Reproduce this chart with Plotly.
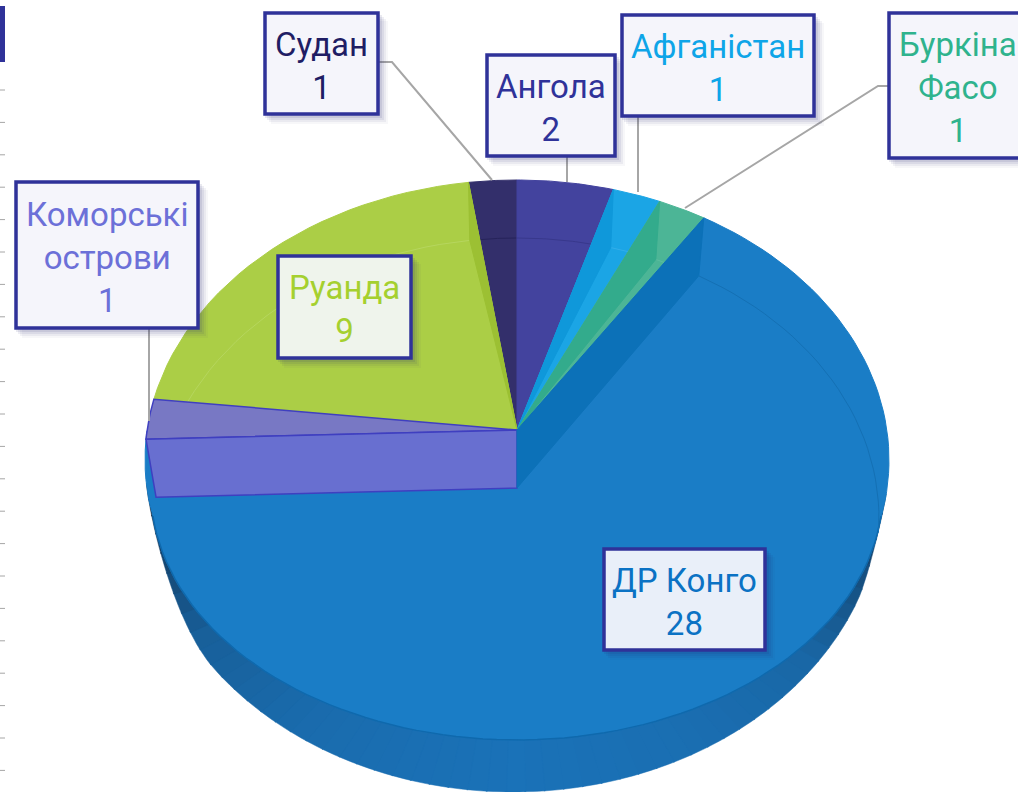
import numpy as np
import plotly.graph_objects as go

# Data
categories = ["Ангола", "Афганістан", "Буркіна<br>Фасо", "ДР Конго", "Коморські<br>острови", "Руанда", "Судан"]
values = [2, 1, 1, 28, 1, 9, 1]

# Style
top_colors = ["#43439e", "#1ba5e5", "#4cb596", "#1a7dc6", "#7878c4", "#abce46", "#332f6b"]
strip_colors = ["#43439e", "#0f98da", "#33ab8c", "#0c71b8", "#686fd0", "#9cc033", "#332f6b"]
arc_colors = ["#38388c", "#32aeea", "#5cbd9f", "#1470b4", "#7878c4", "#b6d65e", "#26235a"]
text_colors = ["#2f3299", "#0ea5e8", "#2fb38d", "#0b72c4", "#6c70d8", "#a5d02f", "#1f1d64"]
box_fills = ["#f5f5fb", "#f5f5fb", "#f5f5fb", "#e9eff9", "#f5f5fb", "#eff4ec", "#f5f5fb"]
boxes = [(487, 55, 615, 156), (622, 15, 814, 116), (889, 13, 1022, 158), (604, 549, 765, 650),
         (16, 182, 198, 328), (278, 256, 411, 358), (265, 13, 378, 114)]
leaders = [[(567, 156), (567, 182)], [(638, 116), (638, 192)], [(889, 86), (878, 86), (685, 208)], None,
           [(149, 328), (149, 421)], None, [(378, 62), (392, 62), (492, 180)]]
FONT = "Roboto"
FONT_SIZE = 33

# Projection of the tilted pie onto the page
CX, APEX_Y = 517, 430
E0 = (460, 372, 280, 517)   # raised rim: centre y, rx, ry, centre x
E1 = (490, 366, 250, 517)   # lower surface rim
E2 = (494, 369, 298, 513)   # bottom of side wall
PERSP, DROP, SHRINK = 0.895, 58, 0.973


def phi(theta):
    t = (theta + 180) % 360 - 180
    return np.degrees(2 * np.arctan(PERSP * np.tan(np.radians(t) / 2)))


def ell(e, p):
    p = np.radians(p)
    return e[3] + e[1] * np.sin(p), e[0] - e[2] * np.cos(p)


def dropped(p):
    x, y = ell(E0, p)
    return CX + SHRINK * (x - CX), y + DROP


def wall_edge(p):
    p = np.asarray(p, dtype=float)
    t = np.clip(np.minimum((p - 97) / 14, (264 - p) / 30), 0, 1)
    t = t * t * (3 - 2 * t)
    xa, ya = ell(E0, p)
    xb, yb = ell(E2, p)
    return xa + (xb - xa) * t, ya + (yb - ya) * t


fig = go.Figure()


def poly(xs, ys, fill, line=None, w=1, name=""):
    fig.add_trace(go.Scatter(x=list(xs), y=list(ys), mode="lines", fill="toself", fillcolor=fill,
                             line=dict(color=line or fill, width=w), name=name, hoverinfo="skip"))


def path(xs, ys, color, w=1):
    fig.add_trace(go.Scatter(x=list(xs), y=list(ys), mode="lines", line=dict(color=color, width=w),
                             hoverinfo="skip"))


total = sum(values)
edges = np.cumsum([0] + values) / total * 360
ph = [float(phi(a)) for a in edges]
ph[0], ph[-1] = 0.0, 0.0
ia, ik = 3, 4  # Congo, Comoros

# side wall, shaded by direction
wall_stops_p = [98, 108, 125, 150, 180, 215, 240, 252, 263]
wall_stops_v = [0.42, 0.66, 0.84, 0.90, 0.93, 0.88, 0.78, 0.58, 0.30]
base = np.array([0x1c, 0x7b, 0xc6])
wp = np.arange(97, 264, 3.0)
for a in wp:
    k = np.interp(a + 1.5, wall_stops_p, wall_stops_v)
    col = "rgb(%d,%d,%d)" % tuple((base * k + np.array([12, 0, 0]) * (1 - k)).astype(int))
    arc = np.linspace(a, a + 3.2, 4)
    ex, ey = wall_edge(arc)
    poly([CX, *ex, CX], [E1[0], *ey, E1[0]], col, w=0.5)

# Congo surface
p_c = ph[ia]
a0 = np.linspace(p_c, 102, 40)
a1 = np.linspace(96, 264, 80)
a2 = np.linspace(262, 276, 8)
x0, y0 = ell(E0, a0)
x1, y1 = ell(E1, a1)
x2, y2 = ell(E0, a2)
poly([CX, *x0, *x1, *x2, CX], [APEX_Y, *y0, *y1, *y2, APEX_Y], top_colors[ia], name="ДР Конго")
path(x1, y1, "#0f69ad", 1.5)
ax, ay = dropped(np.linspace(p_c, 93, 30))
path(ax, ay, arc_colors[ia], 1)

# Upper slices
for i in [6, 0, 1, 2, 5]:
    a_s, a_e = ph[i], ph[i + 1]
    arc = np.linspace(a_s, a_e, 30)
    x, y = ell(E0, arc)
    poly([CX, *x, CX], [APEX_Y, *y, APEX_Y], top_colors[i], name=categories[i])
    dx, dy = dropped(arc)
    path(dx, dy, arc_colors[i], 1)
    if i in (1, 2):
        px, py = ell(E0, a_s)
        qx, qy = dropped(a_s)
        poly([CX, px, qx, CX], [APEX_Y, py, qy, APEX_Y], strip_colors[i])
    if i == 5:
        px, py = ell(E0, a_e)
        qx, qy = dropped(a_e)
        poly([CX, px, qx, CX], [APEX_Y, py, qy, APEX_Y], strip_colors[i])

# Comoros slice and wall of Congo
a_k0, a_k1 = ph[ik], ph[ik + 1]
kx, ky = ell(E0, np.linspace(a_k0, a_k1, 10))
poly([CX, *kx, CX], [APEX_Y, *ky, APEX_Y], top_colors[ik], "#3f3fc0", 1.5, categories[ik])
bx, by = ell(E0, a_k0)
qx, qy = dropped(a_k0)
poly([CX, bx, qx, CX, CX], [APEX_Y, by, qy, APEX_Y + DROP, APEX_Y], strip_colors[ik], "#3f3fc0", 1.5)

px, py = ell(E0, p_c)
qx, qy = dropped(p_c)
poly([CX, px, qx, CX, CX], [APEX_Y, py, qy, APEX_Y + DROP, APEX_Y], strip_colors[ia])

# Leader lines
for pts in leaders:
    if pts:
        path([p[0] for p in pts], [p[1] for p in pts], "#a6a6a6", 2)

shapes = []
# left-hand remnants of the slide
shapes.append(dict(type="rect", x0=0, x1=5, y0=6, y1=62, fillcolor="#2f3299", line_width=0))
for tick_y in np.arange(90, 775, 32.4):
    shapes.append(dict(type="line", x0=0, x1=5, y0=tick_y, y1=tick_y, line=dict(color="#a6a6a6", width=1)))

# Label boxes
for b, fill in zip(boxes, box_fills):
    for off, op in [(10, 0.04), (8, 0.06), (6, 0.08), (4, 0.10)]:
        shapes.append(dict(type="rect", x0=b[0] + off - 4, x1=b[2] + off, y0=b[1] + off - 2, y1=b[3] + off,
                           fillcolor="rgba(40,40,110,%g)" % op, line_width=0))
    shapes.append(dict(type="rect", x0=b[0], x1=b[2], y0=b[1], y1=b[3], fillcolor=fill,
                       line=dict(color="#2f3299", width=3.5)))

annotations = []
for name, v, b, c in zip(categories, values, boxes, text_colors):
    cx = (b[0] + b[2]) / 2 if b[2] < 1018 else 958
    annotations.append(dict(x=cx, y=(b[1] + b[3]) / 2 + 2, text=f"{name}<br>{v}", showarrow=False,
                            font=dict(family=FONT, size=FONT_SIZE, color=c), align="center",
                            xanchor="center", yanchor="middle"))

fig.update_layout(width=1018, height=792, margin=dict(l=0, r=0, t=0, b=0), showlegend=False,
                  paper_bgcolor="white", plot_bgcolor="white", shapes=shapes, annotations=annotations,
                  xaxis=dict(range=[0, 1018], visible=False, fixedrange=True),
                  yaxis=dict(range=[792, 0], visible=False, fixedrange=True))
fig.write_html("out.html", config={"displayModeBar": False},
               post_script="document.body.style.margin='0';document.body.style.overflow='hidden';")
